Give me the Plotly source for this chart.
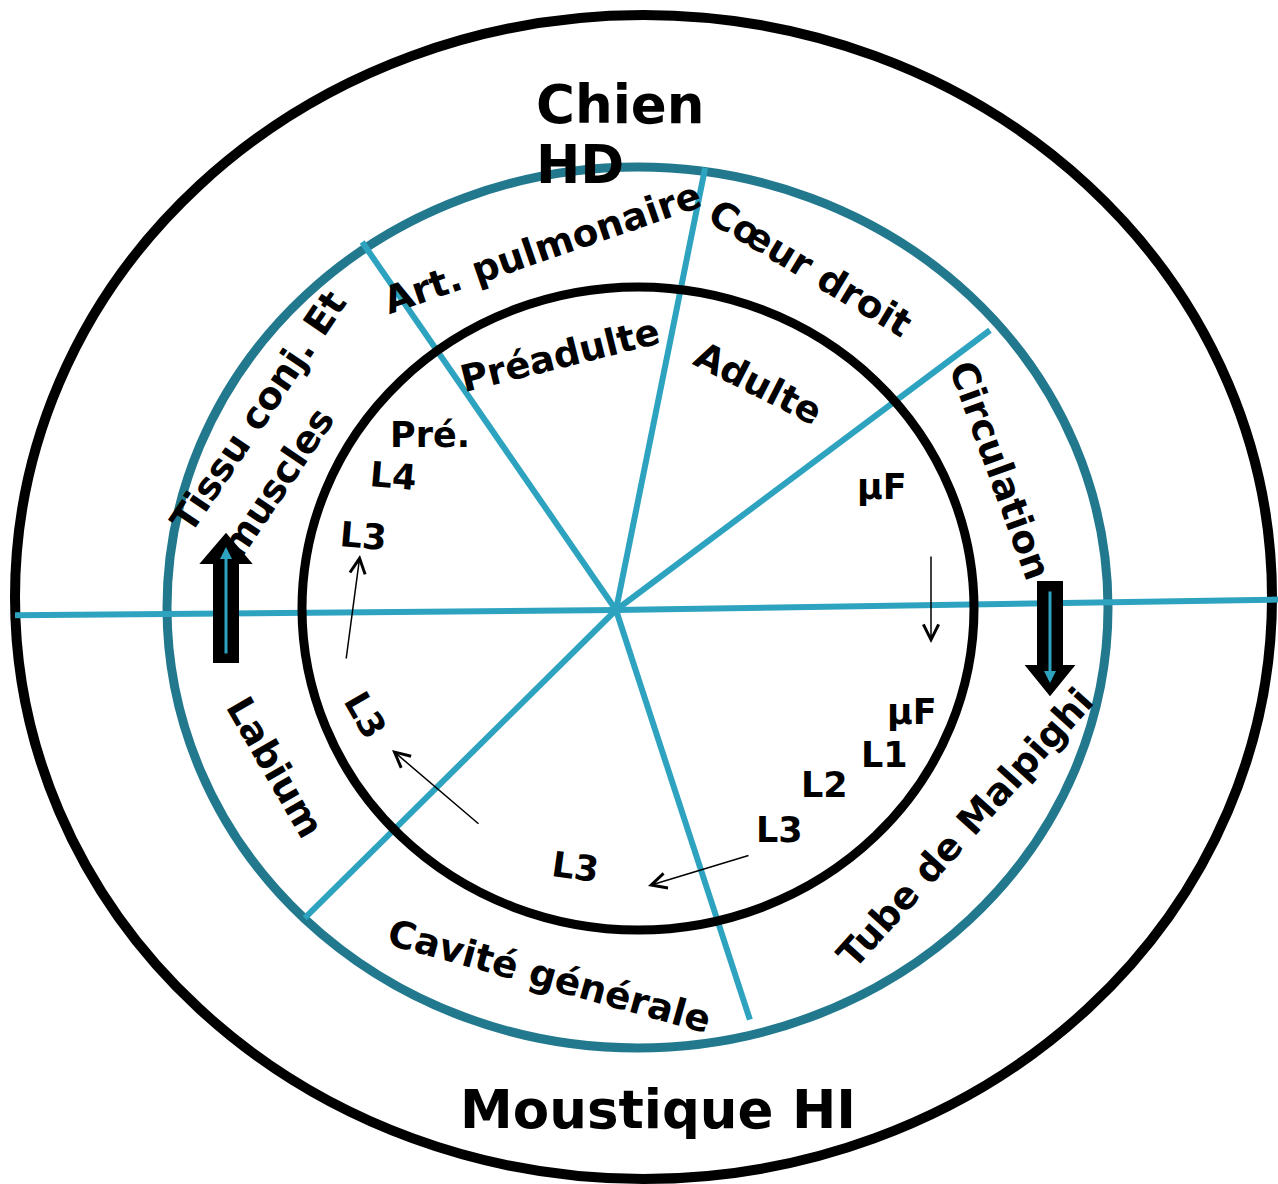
import math
import plotly.graph_objects as go

# ---------------- data (labels) ----------------
title_top = ["Chien", "HD"]
title_bottom = "Moustique HI"
ring_labels = ["Art. pulmonaire", "Cœur droit", "Circulation", "Tube de Malpighi",
               "Cavité générale", "Labium", "Tissu conj. Et", "muscles"]
stage_labels = ["Préadulte", "Adulte"]
small_labels = ["Pré.", "L4", "L3", "µF", "µF", "L1", "L2", "L3", "L3", "L3"]

# spokes: direction (deg, screen coords) and length from the hub
spoke_angles = [-78.6, -36.8, -0.9, 71.9, 135.3, 179.5, -124.6]
spoke_lengths = [451, 467, 665, 431, 438, 601, 447]

# ---------------- layout geometry ----------------
W, H = 1278, 1184
HUB = (616, 610)
DARK_TEAL = "#22798e"
TEAL = "#2ea3c0"
FONT = "DejaVu Sans"

fig = go.Figure()
shapes = []
annos = []

# circles
shapes.append(dict(type="circle", x0=15, y0=15, x1=1272, y1=1179,
                   line=dict(color="black", width=10), layer="below"))
shapes.append(dict(type="circle", x0=167, y0=167, x1=1108, y1=1048,
                   line=dict(color=DARK_TEAL, width=9), layer="below"))

# spokes
for a, L in zip(spoke_angles, spoke_lengths):
    r = math.radians(a)
    shapes.append(dict(type="line", x0=HUB[0], y0=HUB[1],
                       x1=HUB[0] + L * math.cos(r), y1=HUB[1] + L * math.sin(r),
                       line=dict(color=TEAL, width=6), layer="below"))

shapes.append(dict(type="circle", x0=302, y0=287, x1=974, y1=930,
                   line=dict(color="black", width=9), layer="below"))

# thick arrows (black bodies)
shapes.append(dict(type="path",
                   path="M 217,659 L 217,560 L 208,560 L 226,539 L 244,560 L 235,560 L 235,659 Z",
                   fillcolor="black", line=dict(color="black", width=8)))
shapes.append(dict(type="path",
                   path="M 1041,585 L 1041,669 L 1033,669 L 1050,690 L 1067,669 L 1059,669 L 1059,585 Z",
                   fillcolor="black", line=dict(color="black", width=8)))


def text(t, x, y, size, angle=0, xanchor="center"):
    annos.append(dict(x=x, y=y, text=f"<b>{t}</b>", showarrow=False,
                      textangle=angle, xanchor=xanchor, yanchor="middle",
                      font=dict(family=FONT, size=size, color="black")))


def arrow(x, y, ax, ay, color="black", width=1.5, head=5, size=2.0):
    annos.append(dict(x=x, y=y, ax=ax, ay=ay, axref="x", ayref="y", text="",
                      showarrow=True, arrowhead=head, arrowsize=size,
                      arrowwidth=width, arrowcolor=color))


# titles
text(title_top[0], 534, 104, 53, xanchor="left")
text(title_top[1], 534, 164, 53, xanchor="left")
text(title_bottom, 658, 1109, 53)

# ring labels
ring_pos = [(542, 248, -19), (810, 268, 31), (1000, 470, 70), (965, 828, -48),
            (549, 976, 15.6), (275, 767, 60), (258, 412, -56), (277, 483, -56)]
for t, (x, y, ang) in zip(ring_labels, ring_pos):
    text(t, x, y, 37.5, ang)

# stage labels
stage_pos = [(560, 355, -14), (758, 383, 27)]
for t, (x, y, ang) in zip(stage_labels, stage_pos):
    text(t, x, y, 37, ang)

# small labels
small_pos = [(430, 435, 0), (393, 476, 5), (363, 536, 5), (882, 487, 0),
             (912, 712, 0), (884, 755, 0), (824, 785, 0), (779, 830, 0),
             (575, 867, 8), (365, 715, 60)]
for t, (x, y, ang) in zip(small_labels, small_pos):
    text(t, x, y, 35, ang)

# thin arrows
arrow(360, 555, 346, 660)
arrow(931, 643, 931, 555)
arrow(648, 886, 750, 855)
arrow(392, 750, 480, 825)

# teal cores of thick arrows
arrow(226, 547, 226, 655, color=TEAL, width=3, head=2, size=0.8)
arrow(1050, 683, 1050, 590, color=TEAL, width=3, head=2, size=0.8)

fig.update_layout(
    width=W, height=H, autosize=False,
    margin=dict(l=0, r=0, t=0, b=0),
    paper_bgcolor="white", plot_bgcolor="white",
    xaxis=dict(range=[0, W], visible=False, fixedrange=True),
    yaxis=dict(range=[H, 0], visible=False, fixedrange=True),
    shapes=shapes, annotations=annos, showlegend=False,
)

fig.write_html("out.html", config={"displayModeBar": False},
               post_script="document.body.style.margin='0';")
